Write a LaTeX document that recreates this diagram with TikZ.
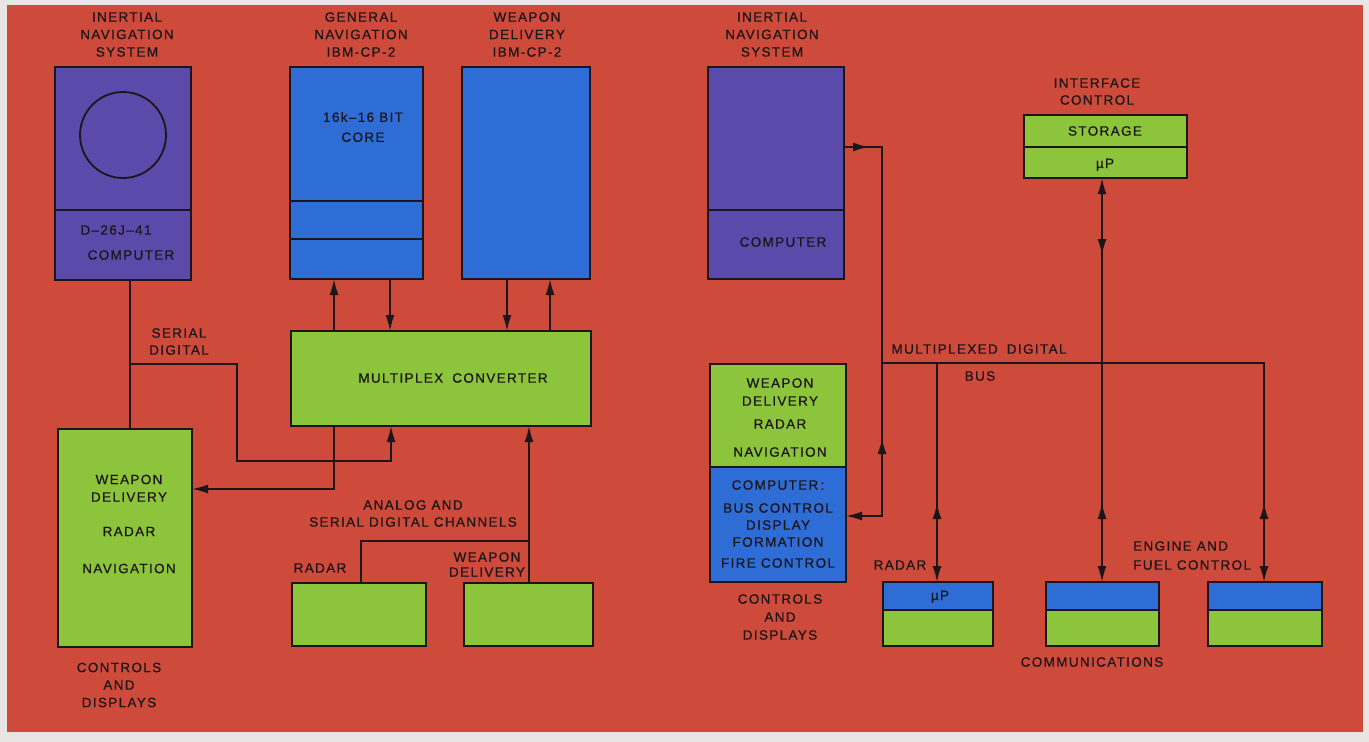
\documentclass[tikz,border=0pt]{standalone}
\usepackage{fontspec}
\setmainfont{Liberation Sans}[LetterSpace=10,FakeBold=0.6]
\usetikzlibrary{arrows.meta,decorations.markings}
\definecolor{bgred}{RGB}{206,74,58}
\definecolor{outerc}{RGB}{232,229,226}
\definecolor{lgreen}{RGB}{140,196,60}
\definecolor{dblue}{RGB}{46,108,214}
\definecolor{purp}{RGB}{90,74,170}
\definecolor{ink}{RGB}{28,22,26}
\tikzset{bigtip/.tip={Latex[length=16pt,width=9pt]}}
\begin{document}
\begin{tikzpicture}[x=1pt,y=-1pt,
  box/.style={draw=ink, line width=1.8pt, inner sep=0pt, outer sep=0pt, anchor=north west},
  lbl/.style={font=\fontsize{13.5}{17.5}\selectfont, align=center, inner sep=0pt, text=ink},
  wire/.style={draw=ink, line width=1.8pt},
  toarr/.style={-{bigtip}},
  botharr/.style={{bigtip}-{bigtip}},
  fwdat/.style={postaction={decorate,decoration={markings,mark=at position #1 with {\arrow{bigtip}}}}},
  bwdat/.style={postaction={decorate,decoration={markings,mark=at position #1 with {\arrowreversed{bigtip}}}}},
]
\useasboundingbox (0,0) rectangle (1369,742);
\fill[outerc] (0,0) rectangle (1369,742);
\fill[bgred] (7,5) rectangle (1363,732);

% ---------- left boxes ----------
\node[box, fill=purp, minimum width=136pt, minimum height=213pt] (insL) at (55,67) {};
\draw[wire] (insL.west |- 0,210) -- (insL.east |- 0,210);
\node[draw=ink, line width=1.8pt, circle, minimum size=86pt, inner sep=0pt] (gyro) at (123,135) {};
\node[box, fill=dblue, minimum width=133pt, minimum height=212pt] (genNav) at (290,67) {};
\draw[wire] (genNav.west |- 0,201) -- (genNav.east |- 0,201);
\draw[wire] (genNav.west |- 0,239) -- (genNav.east |- 0,239);
\node[box, fill=dblue, minimum width=128pt, minimum height=212pt] (wdL) at (462,67) {};
\node[box, fill=lgreen, minimum width=300pt, minimum height=95pt] (mc) at (291,331) {};
\node[box, fill=lgreen, minimum width=134pt, minimum height=218pt] (cdL) at (58,429) {};
\node[box, fill=lgreen, minimum width=134pt, minimum height=63pt] (radL) at (292,583) {};
\node[box, fill=lgreen, minimum width=129pt, minimum height=63pt] (wdB) at (464,583) {};

% ---------- right boxes ----------
\node[box, fill=purp, minimum width=136pt, minimum height=212pt] (insR) at (708,67) {};
\draw[wire] (insR.west |- 0,210) -- (insR.east |- 0,210);
\node[box, fill=lgreen, minimum width=163pt, minimum height=63pt] (ic) at (1024,115) {};
\draw[wire] (ic.west |- 0,147) -- (ic.east |- 0,147);
\node[box, fill=dblue, minimum width=136pt, minimum height=218pt] (cdR) at (710,364) {};
\fill[lgreen] ([shift={(0.9,0.9)}]cdR.north west) rectangle ([shift={(-0.9,0)}]cdR.east |- 0,467);
\draw[wire] (cdR.west |- 0,467) -- (cdR.east |- 0,467);
\node[box, fill=lgreen, minimum width=110pt, minimum height=64pt] (radR) at (883,582) {};
\node[box, fill=lgreen, minimum width=113pt, minimum height=64pt] (comm) at (1046,582) {};
\node[box, fill=lgreen, minimum width=114pt, minimum height=64pt] (eng) at (1208,582) {};
\foreach \b in {radR,comm,eng}{
  \fill[dblue] ([shift={(0.9,0.9)}]\b.north west) rectangle ([shift={(-0.9,0)}]\b.east |- 0,610);
  \draw[wire] (\b.west |- 0,610) -- (\b.east |- 0,610);
}

% ---------- left connectors ----------
\coordinate (jSer) at (130,364);
\coordinate (cSer) at (237,461);
\coordinate (jRad) at (529,541);
\draw[wire] (insL.south -| 130,0) -- (cdL.north -| 130,0);
\draw[wire,toarr] (jSer) -| (cSer) -| (mc.south -| 391,0);
\draw[wire,toarr] (mc.south -| 334,0) |- (cdL.east |- 0,489);
\draw[wire,toarr] (mc.north -| 334,0) -- (genNav.south -| 334,0);
\draw[wire,toarr] (genNav.south -| 390,0) -- (mc.north -| 390,0);
\draw[wire,toarr] (wdL.south -| 507,0) -- (mc.north -| 507,0);
\draw[wire,toarr] (mc.north -| 550,0) -- (wdL.south -| 550,0);
\draw[wire] (radL.north -| 361,0) |- (jRad);
\draw[wire,toarr] (wdB.north -| 529,0) -- (mc.south -| 529,0);

% ---------- right connectors ----------
\coordinate (jIns) at (882,147);
\coordinate (jBus) at (882,363);
\draw[wire,toarr,fwdat=25pt,bwdat=329pt] (insR.east |- jIns) -- (jIns) |- (cdR.east |- 0,516);
\draw[wire,toarr,bwdat=522pt] (jBus) -| (eng.north -| 1264,0);
\draw[wire,toarr,bwdat=140pt] (jBus -| 937,0) -- (radR.north -| 937,0);
\draw[wire,botharr,fwdat=77pt,bwdat=325pt] (ic.south -| 1102,0) -- (comm.north -| 1102,0);

% ---------- texts left ----------
\node[lbl] (tInsL) at (127,34.5) {INERTIAL\\NAVIGATION\\SYSTEM};
\node[lbl] (tGen) at (361,34.5) {GENERAL\\NAVIGATION\\IBM-CP-2};
\node[lbl] (tWdL) at (527,34.5) {WEAPON\\DELIVERY\\IBM-CP-2};
\node[lbl] (tCore) at (363,127) {16k–16 BIT\\[2.5pt]CORE};
\node[lbl] (tD26) at (116,230) {D–26J–41};
\node[lbl] (tCompL) at (131,255) {COMPUTER};
\node[lbl] (tMC) at (453,378) {MULTIPLEX\hspace{4pt} CONVERTER};
\node[lbl] (tSer) at (179,341.5) {SERIAL\\[-0.5pt]DIGITAL};
\node[lbl] (tCdL) at (129,524) {WEAPON\\DELIVERY\\[17pt]RADAR\\[19.5pt]NAVIGATION};
\node[lbl] (tCdLb) at (119,685) {CONTROLS\\AND\\DISPLAYS};
\node[lbl] (tAna) at (413,513.5) {ANALOG AND\\[-0.5pt]SERIAL DIGITAL CHANNELS};
\node[lbl] (tRadL) at (320,568) {RADAR};
\node[lbl] (tWdB) at (487,564.5) {WEAPON\\[-2.5pt]DELIVERY};

% ---------- texts right ----------
\node[lbl] (tInsR) at (772,34.5) {INERTIAL\\NAVIGATION\\SYSTEM};
\node[lbl] (tCompR) at (783,242) {COMPUTER};
\node[lbl] (tIc) at (1097,91.5) {INTERFACE\\[-0.5pt]CONTROL};
\node[lbl] (tSto) at (1105,131) {STORAGE};
\node[lbl, anchor=base] (tMuIc) at (1105,168) {µP};
\node[lbl] (tCdRg) at (780,417.5) {WEAPON\\[0.5pt]DELIVERY\\[5.5pt]RADAR\\[10.5pt]NAVIGATION};
\node[lbl] (tCdRb) at (778,524) {COMPUTER\,:\\[5.5pt]BUS CONTROL\\[-0.5pt]DISPLAY\\[-0.5pt]FORMATION\\[3.5pt]FIRE CONTROL};
\node[lbl] (tCdRc) at (780,617) {CONTROLS\\[0.5pt]AND\\[0.5pt]DISPLAYS};
\node[lbl] (tMux) at (979,349) {MULTIPLEXED\hspace{4pt} DIGITAL};
\node[lbl] (tBus) at (980,376) {BUS};
\node[lbl] (tRadR) at (900,565) {RADAR};
\node[lbl, anchor=base] (tMuR) at (940,600) {µP};
\node[lbl, align=left, anchor=west] (tEng) at (1133,555.5) {ENGINE AND\\[1.5pt]FUEL CONTROL};
\node[lbl] (tComm) at (1092,662) {COMMUNICATIONS};
\end{tikzpicture}
\end{document}
